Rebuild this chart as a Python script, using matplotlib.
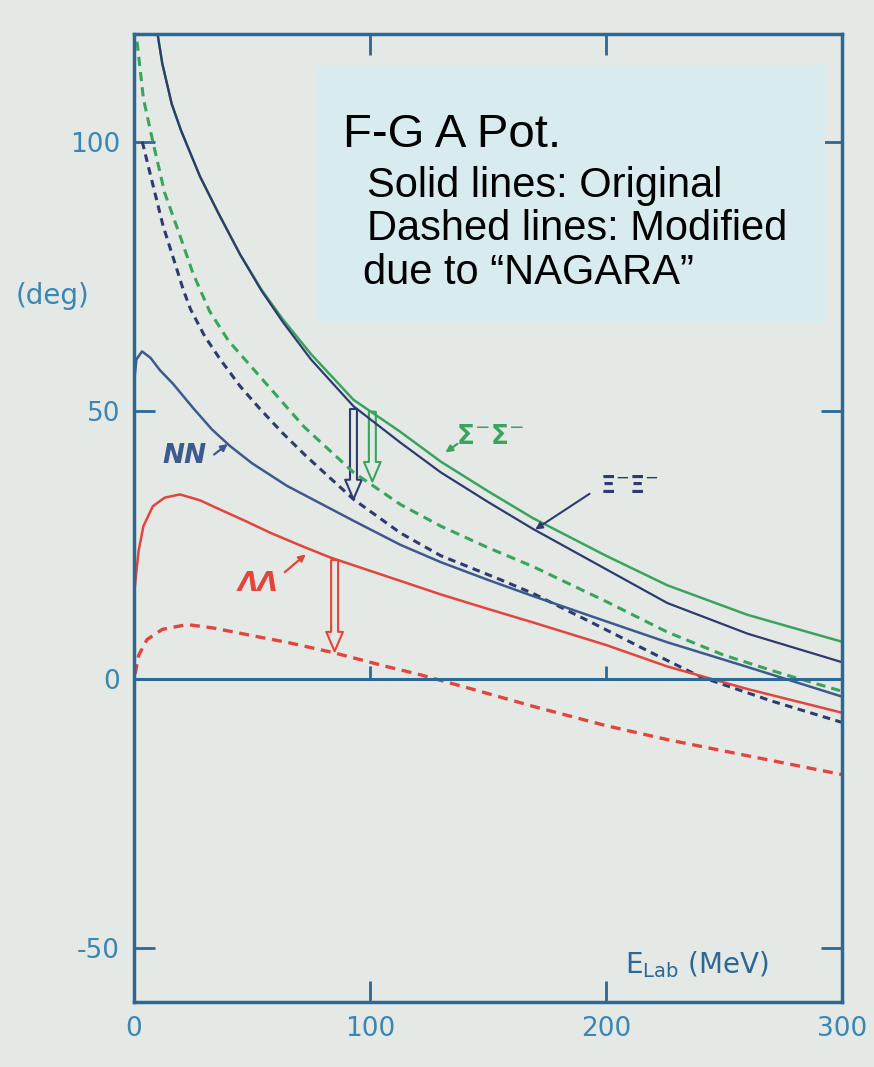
import numpy as np
import matplotlib.pyplot as plt
from matplotlib.patches import Rectangle, FancyArrowPatch

# phase shifts (deg) vs E_lab (MeV)
E_sig = [10, 12, 16, 20, 28, 36, 45, 54, 63, 75, 93, 113, 130, 150, 169, 200, 226, 260, 300]
d_sig = [120, 114.5, 107, 102, 93.5, 86.5, 79, 72.5, 67, 60.5, 52, 46, 40.5, 35, 30, 23, 17.5, 12, 7]

E_xi = [10, 12, 16, 20, 28, 36, 45, 54, 63, 75, 93, 113, 130, 150, 169, 200, 226, 260, 300]
d_xi = [120, 114.5, 107, 102, 93.5, 86.5, 79, 72.3, 66.5, 59.5, 50.8, 44, 38.5, 33, 28, 20.5, 14.2, 8.5, 3.2]

E_sig_mod = [1.3, 4, 8, 13, 19.5, 25, 32, 40, 50, 60, 72, 93, 113, 130, 150, 169, 200, 226, 250, 275, 300]
d_sig_mod = [118.6, 108, 100, 90.5, 82.5, 75.5, 68.5, 63, 58, 53, 47, 38.5, 32.5, 28.5, 24.5, 21, 14.5, 8.8, 4.5, 1.0, -2.2]

E_xi_mod = [3.5, 8, 12.3, 18, 21, 24, 30, 36.4, 45, 53.4, 63, 73, 93, 113, 130, 155, 169, 197, 220, 240, 270, 300]
d_xi_mod = [100, 92, 84.4, 76.5, 72.3, 68.8, 63.8, 59.6, 54.5, 50.3, 45.8, 41.5, 33.5, 27.2, 23, 18.6, 16, 9.9, 4.8, 0.5, -4, -8]

E_nn = [0, 1, 3.4, 7, 11, 16.5, 25, 33, 40.7, 50, 64.8, 80, 93, 113, 130, 150, 169, 200, 226, 260, 300]
d_nn = [55, 59.5, 61, 59.8, 57.5, 55, 50.5, 46.5, 43.4, 40.2, 36, 32.5, 29.5, 25, 21.8, 18.5, 15.5, 10.8, 6.9, 2.3, -3.2]

E_ll = [0.3, 1, 2, 4, 8, 13, 19.5, 28, 36.4, 47, 57.6, 70, 83, 100, 113, 130, 150, 169, 200, 226, 260, 300]
d_ll = [17, 20, 24, 28.5, 32.2, 33.8, 34.4, 33.3, 31.6, 29.5, 27.3, 25, 22.7, 20.2, 18.3, 15.8, 13.1, 10.6, 6.4, 2.4, -1.8, -6.2]

E_ll_mod = [0.5, 2, 5.5, 12, 22.5, 33, 43.6, 54, 64.8, 84.3, 107, 121, 140, 169, 200, 226, 260, 300]
d_ll_mod = [1, 4.5, 7.4, 9.3, 10.2, 9.6, 8.7, 7.8, 6.9, 5, 2.4, 0.9, -1.4, -5, -8.6, -11.2, -14.2, -17.7]

xticks = [0, 100, 200, 300]
yticks = [-50, 0, 50, 100]

paper = '#e4e9e6'
axcol = '#2b6896'
labcol = '#3b86b2'
green = '#3aa35c'
navy = '#2d3b6e'
nncol = '#3d5a8e'
red = '#e2453b'

fig = plt.figure(figsize=(8.74, 10.67), dpi=100)
fig.patch.set_facecolor(paper)
ax = fig.add_axes([0.1533, 0.0609, 0.8101, 0.9071])
ax.set_facecolor(paper)

ax.plot(E_sig, d_sig, color=green, lw=1.8)
ax.plot(E_xi, d_xi, color=navy, lw=1.6)
ax.plot(E_sig_mod, d_sig_mod, color=green, lw=2.2, ls=(0, (3, 2)))
ax.plot(E_xi_mod, d_xi_mod, color=navy, lw=2.2, ls=(0, (2.5, 1.8)))
ax.plot(E_nn, d_nn, color=nncol, lw=1.8)
ax.plot(E_ll, d_ll, color=red, lw=1.8)
ax.plot(E_ll_mod, d_ll_mod, color=red, lw=2.4, ls=(0, (3, 2)))

ax.axhline(0, color=axcol, lw=2.2)
ax.vlines([100, 200], 0, 2.5, color=axcol, lw=2)

ax.set_xlim(0, 300)
ax.set_ylim(-60, 120)
ax.set_xticks(xticks)
ax.set_yticks(yticks)
ax.set_xticklabels([str(t) for t in xticks])
ax.set_yticklabels([str(t) for t in yticks])
ax.tick_params(direction='in', top=True, right=True, length=15, width=2,
               color=axcol, labelcolor=labcol, labelsize=19, pad=10)
for s in ax.spines.values():
    s.set_color(axcol)
    s.set_linewidth(2.5)

# hollow "shift" arrows
for x0, y0, y1, c in [(93, 50.8, 33, navy), (101, 50.3, 36.3, green), (85, 22.7, 4.7, red)]:
    ax.add_patch(FancyArrowPatch((x0, y0), (x0, y1), mutation_scale=20,
                 arrowstyle='simple,head_length=0.7,head_width=0.6,tail_width=0.25',
                 fc='none', ec=c, lw=1.5))

# curve labels
hand = dict(fontweight='bold', fontstyle='italic')
ax.text(21.5, 41.5, 'NN', color=nncol, fontsize=19, ha='center', va='center', **hand)
ax.annotate('', xy=(40.7, 44.1), xytext=(33, 41.5),
            arrowprops=dict(arrowstyle='-|>', color=nncol, lw=1.6))
ax.text(52.5, 17.7, 'ΛΛ', color=red, fontsize=19, ha='center', va='center', **hand)
ax.annotate('', xy=(73.7, 23.6), xytext=(63, 19.6),
            arrowprops=dict(arrowstyle='-|>', color=red, lw=1.6))
ax.text(151, 45, 'Σ$^{-}$Σ$^{-}$', color=green, fontsize=19, ha='center', va='center', fontweight='bold')
ax.annotate('', xy=(131, 41.9), xytext=(138, 44.1),
            arrowprops=dict(arrowstyle='-|>', color=green, lw=1.6))
ax.text(210, 36, 'Ξ$^{-}$Ξ$^{-}$', color=navy, fontsize=17, ha='center', va='center', fontweight='bold')
ax.annotate('', xy=(169, 27.6), xytext=(194, 34.8),
            arrowprops=dict(arrowstyle='-|>', color=navy, lw=1.5))

ax.text(208, -53, r'E$_{\mathrm{Lab}}$ (MeV)', color=axcol, fontsize=20, va='center')
fig.text(0.06, 0.7226, '(deg)', color=labcol, fontsize=20, ha='center', va='center')

# legend box
fig.patches.append(Rectangle((0.3627, 0.6982), 0.5812, 0.2409, transform=fig.transFigure,
                             facecolor='#d8ecef', edgecolor='none', zorder=5))
fig.text(0.3924, 0.8622, 'F-G A Pot.', fontsize=34, family='Liberation Sans', va='baseline', zorder=6)
fig.text(0.42, 0.8154, 'Solid lines: Original', fontsize=30, family='Liberation Sans', va='baseline', zorder=6)
fig.text(0.42, 0.7751, 'Dashed lines: Modified', fontsize=30, family='Liberation Sans', va='baseline', zorder=6)
fig.text(0.415, 0.7338, 'due to \u201cNAGARA\u201d', fontsize=30, family='Liberation Sans', va='baseline', zorder=6)

plt.savefig('out.png', dpi=100, facecolor=paper)
plt.close()
